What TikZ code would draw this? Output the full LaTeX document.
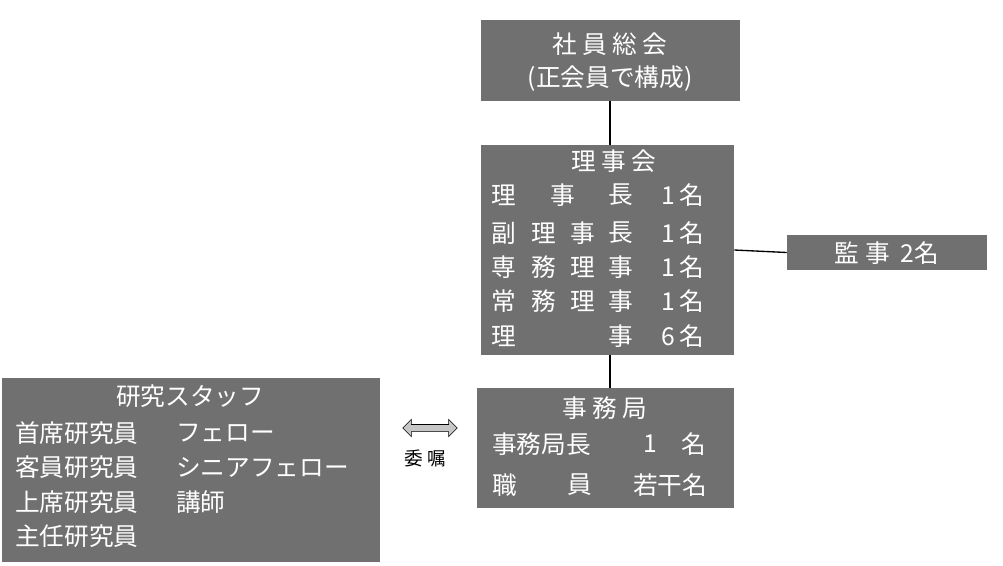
\documentclass[tikz,border=0pt]{standalone}
\usepackage{fontspec}
\setmainfont{Noto Sans CJK JP}
\usetikzlibrary{shapes.arrows}

\definecolor{boxgray}{RGB}{112,112,112}
\tikzset{
  box/.style={fill=boxgray,draw=none,inner sep=0pt},
  txt/.style={text=white,inner sep=0pt,font=\fontsize{18.5pt}{20pt}\selectfont},
  txtl/.style={txt,anchor=west},
  link/.style={black,line width=1pt}
}

\begin{document}
\begin{tikzpicture}[x=0.75pt,y=-0.75pt]
    \useasboundingbox (0,0) rectangle (1003,565);
    %boxes
    \node[box,minimum width=194.25pt,minimum height=60.75pt] (soukai) at (610.5,60.5) {};
    \node[box,minimum width=189.75pt,minimum height=157.5pt] (rijikai) at (607.5,250) {};
    \node[box,minimum width=150pt,minimum height=26.25pt] (kanji) at (887,252.5) {};
    \node[box,minimum width=192.75pt,minimum height=90pt] (jimu) at (605.5,448) {};
    \node[box,minimum width=283.5pt,minimum height=138pt] (staff) at (191,470) {};

    %connectors
    \draw[link] (610,0 |- soukai.south) -- (610,0 |- rijikai.north);
    \draw[link] (rijikai.east) -- (kanji.west);
    \draw[link] (610,0 |- rijikai.south) -- (610,0 |- jimu.north);

    %社員総会
    \node[txt] (t1) at (610,44) {社\ 員\ 総\ 会};
    \node[txt] (t2) at (610,79) {(正会員で構成)};

    %理事会
    \node[txt] (r0) at (614,161) {理\ 事\ 会};
    \foreach \y/\a/\b/\c/\d/\n [count=\i] in
      {195/理///長/1,233/副/理/事/長/1,267/専/務/理/事/1,301/常/務/理/事/1,336/理///事/6}{
      \node[txt] (ra\i) at (504,\y) {\a};
      \node[txt] (rb\i) at (544,\y) {\b};
      \node[txt] (rc\i) at (583,\y) {\c};
      \node[txt] (rd\i) at (621,\y) {\d};
      \node[txt] (rn\i) at (683,\y) {\n\,名};
    }
    \node[txt] (rx) at (563,195) {事};

    %監事
    \node[txt] (k1) at (887,253) {監\ 事\ \ 2名};

    %事務局
    \node[txt] (j0) at (605,408) {事\ 務\ 局};
    \node[txtl] (j1) at (492,444) {事務局長};
    \node[txt] (j2) at (650,444) {1};
    \node[txt] (j3) at (694,444) {名};
    \node[txt] (j4) at (505,485) {職};
    \node[txt] (j5) at (580,485) {員};
    \node[txtl] (j6) at (633,485) {若干名};

    %研究スタッフ
    \node[txt] (s0) at (190,396) {研究スタッフ};
    \foreach \y/\a/\b [count=\i] in {433/首席研究員/フェロー,467/客員研究員/シニアフェロー,502/上席研究員/講師,536/主任研究員/}{
      \node[txtl] (sa\i) at (15,\y) {\a};
      \node[txtl] (sb\i) at (176,\y) {\b};
    }

    %委嘱
    \node[double arrow,draw=black,fill=gray!45,minimum width=13pt,
      double arrow head extend=2.5pt,minimum height=41pt,inner sep=1.5pt] (arr) at (430,428) {};
    \node[inner sep=0pt,font=\fontsize{14pt}{15pt}\selectfont] (inin) at (425,458) {委\ 嘱};
\end{tikzpicture}
\end{document}
